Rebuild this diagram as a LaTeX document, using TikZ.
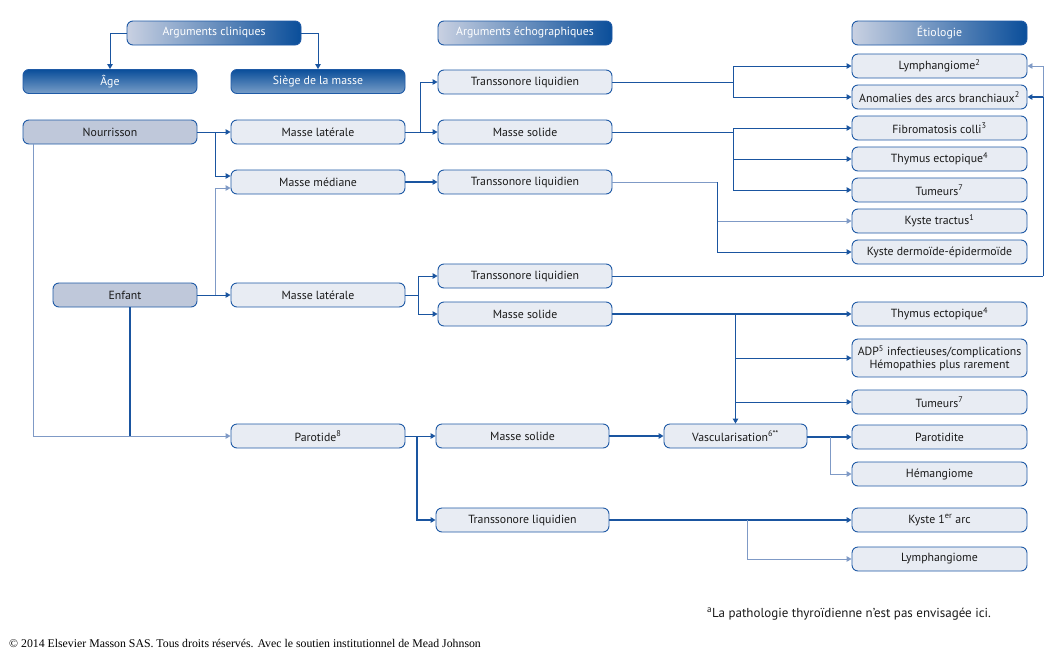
\documentclass[tikz,border=0pt]{standalone}
\usepackage{fontspec}
\setmainfont{PT Sans}
\newfontfamily\footfont{Liberation Serif}
\usetikzlibrary{arrows.meta,calc}
\definecolor{bdr}{HTML}{1F5AA6}
\definecolor{dk}{HTML}{1A55A0}
\definecolor{lightln}{HTML}{7F9AC6}
\definecolor{lightfill}{HTML}{E8ECF3}
\definecolor{agefill}{HTML}{BFC8DA}
\definecolor{hl}{HTML}{C9D1E2}
\definecolor{hr}{HTML}{0A4E9A}
\definecolor{txt}{HTML}{1A1A1A}
\newcommand{\fs}{\fontsize{11.8}{13}\selectfont}
\tikzset{
  box/.style={draw=bdr, line width=0.9pt, rounded corners=6pt, fill=lightfill,
    minimum width=174pt, minimum height=24pt, inner sep=0pt, font=\fs, text=txt},
  agebox/.style={box, fill=agefill},
  hdr/.style={box, left color=hl, right color=hr, text=white},
  hdrv/.style={box, top color=hr, bottom color=hr!55!white, text=white},
  ln/.style={line width=0.9pt, draw=dk},
  lt/.style={line width=0.9pt, draw=lightln},
  tk/.style={line width=1.8pt, draw=dk},
  arr/.style={-{Triangle[length=5pt,width=5.5pt]}}
}
\begin{document}
\begin{tikzpicture}[x=1pt,y=-1pt]
\fill[white] (0,0) rectangle (1063,659);
\useasboundingbox (0,0) rectangle (1063,659);
% headers
\node[hdr] (ac) at (214,33) {Arguments cliniques};
\node[hdrv] (age) at (110,81.5) {Âge};
\node[hdrv] (siege) at (318,81.5) {Siège de la masse};
\node[hdr] (ae) at (525,33) {Arguments échographiques};
\node[hdr, minimum width=175pt] (eti) at (939.5,33) {Étiologie};
% age
\node[agebox] (nour) at (110,132) {Nourrisson};
\node[agebox, minimum width=144pt] (enf) at (125,295) {Enfant};
% siege
\node[box] (ml1) at (318,132) {Masse latérale};
\node[box] (mmed) at (318,182) {Masse médiane};
\node[box] (ml2) at (318,295) {Masse latérale};
\node[box] (par) at (318,436) {Parotide\textsuperscript{8}};
% echo
\node[box] (tl1) at (525,82) {Transsonore liquidien};
\node[box] (ms1) at (525,132) {Masse solide};
\node[box] (tl2) at (525,182) {Transsonore liquidien};
\node[box] (tl3) at (525,276) {Transsonore liquidien};
\node[box] (ms2) at (525,314) {Masse solide};
\node[box, minimum width=173pt] (ms3) at (522.5,436) {Masse solide};
\node[box, minimum width=173pt] (tl4) at (522.5,520) {Transsonore liquidien};
\node[box, minimum width=143pt] (vasc) at (735.5,436) {Vascularisation\textsuperscript{6**}};
% etiologies
\tikzset{et/.style={box, minimum width=175pt}}
\node[et] (lym1) at (939.5,66) {Lymphangiome\textsuperscript{2}};
\node[et] (anom) at (939.5,97) {Anomalies des arcs branchiaux\textsuperscript{2}};
\node[et] (fib) at (939.5,128) {Fibromatosis colli\textsuperscript{3}};
\node[et] (thy1) at (939.5,159) {Thymus ectopique\textsuperscript{4}};
\node[et] (tum1) at (939.5,190) {Tumeurs\textsuperscript{7}};
\node[et] (ktr) at (939.5,221) {Kyste tractus\textsuperscript{1}};
\node[et] (kder) at (939.5,252) {Kyste dermoïde-épidermoïde};
\node[et] (thy2) at (939.5,314) {Thymus ectopique\textsuperscript{4}};
\node[et, minimum height=38pt, align=center] (adp) at (939.5,358) {ADP\textsuperscript{5} infectieuses/complications\\Hémopathies plus rarement};
\node[et] (tum2) at (939.5,402) {Tumeurs\textsuperscript{7}};
\node[et] (pard) at (939.5,437) {Parotidite};
\node[et] (hem) at (939.5,474) {Hémangiome};
\node[et] (k1) at (939.5,520) {Kyste 1\textsuperscript{er} arc};
\node[et] (lym2) at (939.5,559) {Lymphangiome};
% junctions
\coordinate (jn) at (215,132);
\coordinate (je) at (215,295);
\coordinate (jl1) at (420,132);
\coordinate (j1) at (733,82);
\coordinate (j2) at (733,132);
\coordinate (j3) at (717,182);
\coordinate (j4) at (1043,276);
\coordinate (jl2) at (418,295);
\coordinate (j5) at (735.5,314);
\coordinate (j6) at (417,436);
\coordinate (j7) at (830,437);
\coordinate (j8) at (747,520);
\coordinate (jv) at (33,144);
\coordinate (jb) at (130,436);
% connectors
\draw[ln,arr] (ac.west) -| (age.north);
\draw[ln,arr] (ac.east) -| (siege.north);
\draw[ln,arr] (nour.east) -- (ml1.west);
\draw[ln,arr] (jn) |- ([yshift=6pt]mmed.west);
\draw[lt,arr] (je) |- ([yshift=-6pt]mmed.west);
\draw[ln,arr] (enf.east) -- (ml2.west);
\draw[lt,arr] (jv) |- (par.west);
\draw[tk] (enf.south -| jb) -- (jb);
\draw[ln,arr] (ml1.east) -- (ms1.west);
\draw[ln,arr] (jl1) |- (tl1.west);
\draw[tk,arr] (mmed.east) -- (tl2.west);
\draw[ln] (tl1.east) -- (j1);
\draw[ln,arr] (j1) |- (lym1.west);
\draw[ln,arr] (j1) |- (anom.west);
\draw[ln] (ms1.east) -- (j2);
\draw[ln,arr] (j2) |- (fib.west);
\draw[ln,arr] (j2) |- (thy1.west);
\draw[ln,arr] (j2) |- (tum1.west);
\draw[lt] (tl2.east) -- (j3);
\draw[lt,arr] (j3) |- (ktr.west);
\draw[ln,arr] (j3) |- (kder.west);
\draw[ln] (tl3.east) -- (j4);
\draw[lt,arr] (j4) |- (lym1.east);
\draw[ln] (j4) -- (j4 |- anom.east);
\draw[tk,arr] (j4 |- anom.east) -- (anom.east);
\draw[ln] (ml2.east) -- (jl2);
\draw[ln,arr] (jl2) |- (tl3.west);
\draw[ln,arr] (jl2) |- (ms2.west);
\draw[tk,arr] (ms2.east) -- (thy2.west);
\draw[ln,arr] (j5) -- (vasc.north);
\draw[ln,arr] (j5 |- adp.west) -- (adp.west);
\draw[ln,arr] (j5 |- tum2.west) -- (tum2.west);
\draw[ln,arr] (par.east) -- (ms3.west);
\draw[tk,arr] (j6) |- (tl4.west);
\draw[tk,arr] (ms3.east) -- (vasc.west);
\draw[tk,arr] (vasc.east |- pard.west) -- (pard.west);
\draw[lt,arr] (j7) |- (hem.west);
\draw[tk,arr] (tl4.east) -- (k1.west);
\draw[lt,arr] (j8) |- (lym2.west);
% notes
\node[anchor=west, font={\fontsize{13}{15}\selectfont}, text=txt, inner sep=0pt] (fn) at (707,614) {\textsuperscript{a}La pathologie thyroïdienne n’est pas envisagée ici.};
\node[anchor=west, font={\footfont\fontsize{11.8}{13}\selectfont}, inner sep=0pt] (cp) at (9,643) {© 2014 Elsevier Masson SAS. Tous droits réservés. Avec le soutien institutionnel de Mead Johnson};
\end{tikzpicture}
\end{document}
